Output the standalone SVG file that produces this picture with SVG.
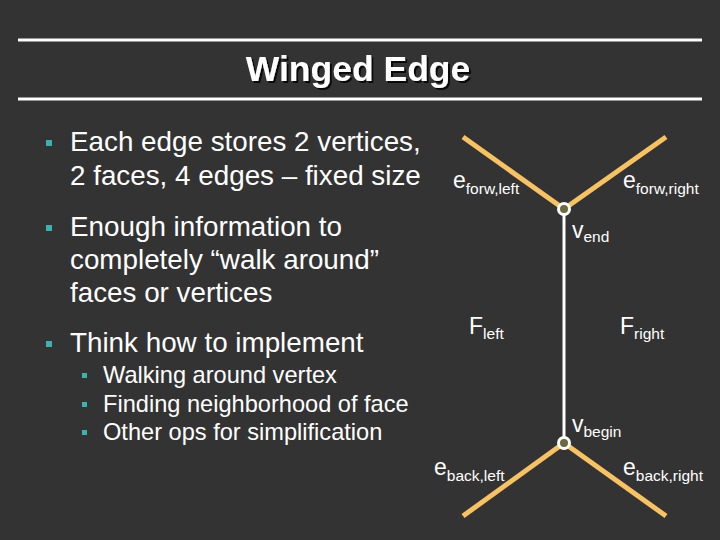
<svg xmlns="http://www.w3.org/2000/svg" width="720" height="540" viewBox="0 0 720 540">
<defs>
<filter id="shadow" x="-10%" y="-30%" width="120%" height="160%">
<feDropShadow dx="2" dy="2" stdDeviation="0.6" flood-color="#000000" flood-opacity="0.8"/>
</filter>
</defs>
<style>
.t{font-family:"Liberation Sans",Arial,sans-serif;fill:#ffffff}
.b1{font-size:27.8px}
.b2{font-size:23.6px}
.lab{font-size:23px}
.sub{font-size:15.5px}
.sq{fill:#3fb0b0}
.wing{stroke:#f7c263;stroke-width:5;stroke-linecap:butt}
.rule{stroke:#ffffff;stroke-width:3}
</style>
<rect width="720" height="540" fill="#333333"/>
<g id="title">
<line class="rule" x1="18" y1="40" x2="702" y2="40"/>
<line class="rule" x1="18" y1="99" x2="702" y2="99"/>
<text x="358" y="81" text-anchor="middle" font-family="Liberation Sans,Arial,sans-serif" font-weight="bold" font-size="35.5" fill="#ffffff" filter="url(#shadow)">Winged Edge</text>
</g>
<g id="bullets">
<rect class="sq" x="46" y="140" width="6" height="6"/>
<text class="t b1" x="70" y="151">Each edge stores 2 vertices,</text>
<text class="t b1" x="70" y="185">2 faces, 4 edges – fixed size</text>
<rect class="sq" x="46" y="225" width="6" height="6"/>
<text class="t b1" x="70" y="236">Enough information to</text>
<text class="t b1" x="70" y="269">completely “walk around”</text>
<text class="t b1" x="70" y="302">faces or vertices</text>
<rect class="sq" x="46" y="341" width="6" height="6"/>
<text class="t b1" x="70" y="352">Think how to implement</text>
<rect class="sq" x="82" y="373" width="5" height="5"/>
<text class="t b2" x="103" y="383">Walking around vertex</text>
<rect class="sq" x="82" y="402" width="5" height="5"/>
<text class="t b2" x="103" y="412">Finding neighborhood of face</text>
<rect class="sq" x="82" y="430" width="5" height="5"/>
<text class="t b2" x="103" y="440">Other ops for simplification</text>
</g>
<g id="connectors">
<line class="wing" x1="463" y1="137" x2="564" y2="209"/>
<line class="wing" x1="666" y1="137" x2="564" y2="209"/>
<line class="wing" x1="463" y1="516" x2="564" y2="443"/>
<line class="wing" x1="666" y1="516" x2="564" y2="443"/>
<line x1="564" y1="209" x2="564" y2="443" stroke="#ffffff" stroke-width="3"/>
</g>
<g id="v_end">
<circle cx="564" cy="209" r="5.5" fill="#6b6a3c" stroke="#ffffff" stroke-width="3"/>
<text class="t lab" x="572" y="238">v<tspan class="sub" dy="4">end</tspan></text>
</g>
<g id="v_begin">
<circle cx="564" cy="443" r="5.5" fill="#6b6a3c" stroke="#ffffff" stroke-width="3"/>
<text class="t lab" x="572" y="432">v<tspan class="sub" dy="5">begin</tspan></text>
</g>
<g id="e_forw_left"><text class="t lab" x="453" y="188">e<tspan class="sub" dy="6">forw,left</tspan></text></g>
<g id="e_forw_right"><text class="t lab" x="623" y="188">e<tspan class="sub" dy="6">forw,right</tspan></text></g>
<g id="e_back_left"><text class="t lab" x="434" y="475">e<tspan class="sub" dy="6">back,left</tspan></text></g>
<g id="e_back_right"><text class="t lab" x="623" y="475">e<tspan class="sub" dy="6">back,right</tspan></text></g>
<g id="f_left"><text class="t lab" x="469" y="334">F<tspan class="sub" dy="5">left</tspan></text></g>
<g id="f_right"><text class="t lab" x="620" y="334">F<tspan class="sub" dy="5">right</tspan></text></g>
</svg>
